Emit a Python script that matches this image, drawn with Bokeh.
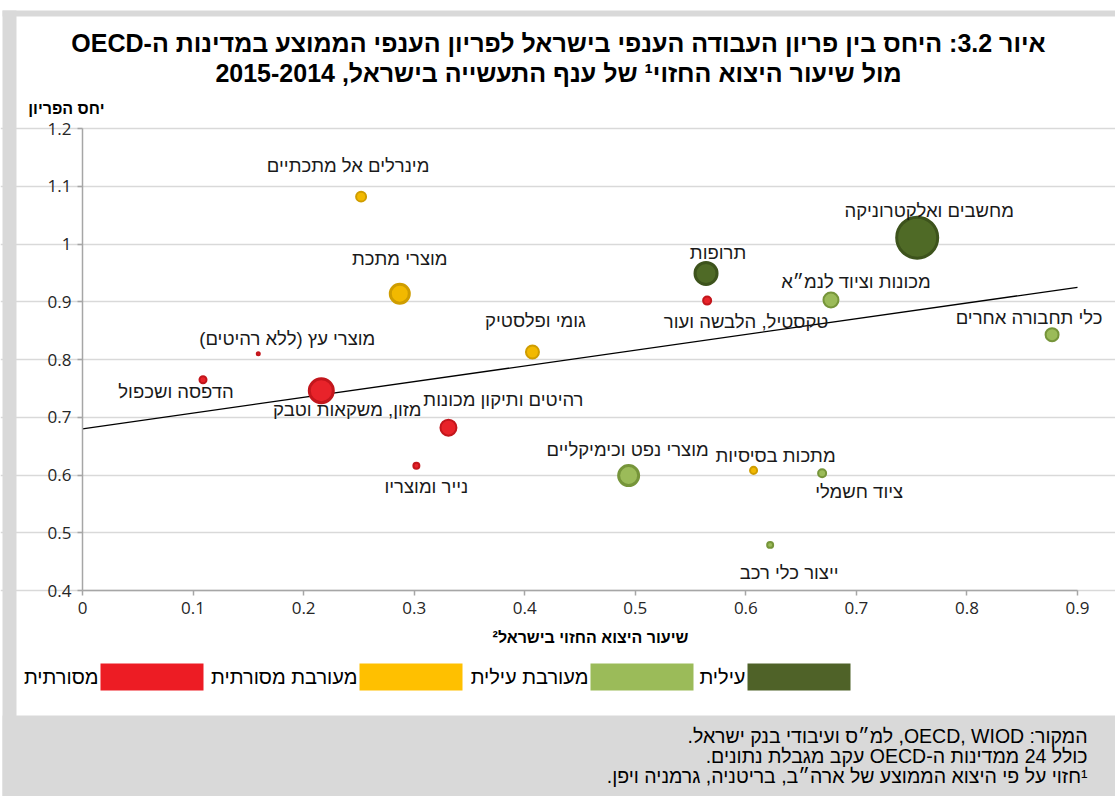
from bokeh.plotting import figure
from bokeh.models import Range1d, ColumnDataSource, FixedTicker
from bokeh.core.properties import value
from bokeh.embed import file_html
from bokeh.resources import INLINE
import math

RLE, PDF = "\u202B", "\u202C"


def rtl(s):
    return RLE + s + PDF


# ---------------- data ----------------
title_line1 = "איור 3.2: היחס בין פריון העבודה הענפי בישראל לפריון הענפי הממוצע במדינות ה-OECD"
title_line2 = "מול שיעור היצוא החזוי\u00b9 של ענף התעשייה בישראל, 2014\u20102015"
x_title = "שיעור היצוא החזוי בישראל\u00b2"
y_title = "יחס הפריון"

industries = [
    "מינרלים אל מתכתיים",
    "מוצרי מתכת",
    "מחשבים ואלקטרוניקה",
    "תרופות",
    "טקסטיל, הלבשה ועור",
    "מכונות וציוד לנמ״א",
    "כלי תחבורה אחרים",
    "גומי ופלסטיק",
    "מוצרי עץ (ללא רהיטים)",
    "הדפסה ושכפול",
    "מזון, משקאות וטבק",
    "רהיטים ותיקון מכונות",
    "נייר ומוצריו",
    "מוצרי נפט וכימיקליים",
    "מתכות בסיסיות",
    "ציוד חשמלי",
    "ייצור כלי רכב",
]
export_rate = [0.252, 0.287, 0.755, 0.564, 0.565, 0.677, 0.877, 0.407, 0.159,
               0.109, 0.216, 0.331, 0.302, 0.494, 0.607, 0.669, 0.622]
productivity_ratio = [1.082, 0.914, 1.011, 0.949, 0.902, 0.903, 0.843, 0.813, 0.810,
                      0.765, 0.746, 0.682, 0.616, 0.599, 0.608, 0.603, 0.479]
category = ["מעורבת מסורתית", "מעורבת מסורתית", "עילית", "עילית", "מסורתית",
            "מעורבת עילית", "מעורבת עילית", "מעורבת מסורתית", "מסורתית",
            "מסורתית", "מסורתית", "מסורתית", "מסורתית", "מעורבת עילית",
            "מעורבת מסורתית", "מעורבת עילית", "מעורבת עילית"]
# relative weight of each branch (bubble area, largest = 100)
weight = [7.4, 25.0, 100.0, 32.3, 5.2, 14.9, 11.6, 11.6, 1.3,
          4.2, 37.7, 16.7, 3.3, 27.3, 4.2, 5.2, 3.3]

legend_categories = ["מסורתית", "מעורבת מסורתית", "מעורבת עילית", "עילית"]

trend_x = [0.0, 0.9]
trend_y = [0.68, 0.925]

x_ticks = [0, 0.1, 0.2, 0.3, 0.4, 0.5, 0.6, 0.7, 0.8, 0.9]
x_tick_labels = ["0", "0.1", "0.2", "0.3", "0.4", "0.5", "0.6", "0.7", "0.8", "0.9"]
y_ticks = [0.4, 0.5, 0.6, 0.7, 0.8, 0.9, 1.0, 1.1, 1.2]
y_tick_labels = ["0.4", "0.5", "0.6", "0.7", "0.8", "0.9", "1", "1.1", "1.2"]

source_lines = [
    "המקור: OECD, WIOD, למ״ס ועיבודי בנק ישראל.",
    "כולל 24 ממדינות ה-OECD עקב מגבלת נתונים.",
    "\u00b9חזוי על פי היצוא הממוצע של ארה״ב, בריטניה, גרמניה ויפן.",
]

# ---------------- styles / layout ----------------
fill_colors = {"מסורתית": "#e8232a", "מעורבת מסורתית": "#f2b900",
               "מעורבת עילית": "#9bbb59", "עילית": "#4f6a26"}
line_colors = {"מסורתית": "#c3161c", "מעורבת מסורתית": "#cf9d00",
               "מעורבת עילית": "#76953a", "עילית": "#3d531c"}
legend_colors = {"מסורתית": "#ed1c24", "מעורבת מסורתית": "#ffc000",
                 "מעורבת עילית": "#9bbb59", "עילית": "#4f6228"}

# label offsets (px) relative to bubble centre (positive dy = down)
label_dx = [-13, 0, 12, 12, 39, 25, -23, 3, 29, -27, 26, 55, 10, -1, 22, 37, 19]
label_dy = [-31, -35, -27, -21, 21, -19, -17, -31, -15, 12, 19, -28, 21, -26, -15, 18, 28]

SANS = "Liberation Sans"
TICK_FONT = "Open Sans"

W, H = 1115, 796
FL, FR, FT, FB = 82, 1077, 128, 590          # chart area in page pixels
X0, X1, Y0, Y1 = 0.0, 0.9, 0.4, 1.2


def px_x(X):
    return X0 + (X - FL) * (X1 - X0) / (FR - FL)


def px_y(Y):
    return Y0 + (FB - Y) * (Y1 - Y0) / (FB - FT)


# the frame covers the whole page; the chart occupies the [X0,X1]x[Y0,Y1] part of it
p = figure(width=W, height=H, x_range=Range1d(px_x(0), px_x(W)), y_range=Range1d(px_y(H), px_y(0)),
           output_backend="svg", toolbar_location=None,
           min_border_left=0, min_border_right=0, min_border_top=0, min_border_bottom=0)
p.outline_line_color = None
p.background_fill_color = "white"
p.border_fill_color = "white"

# axes placed at the chart origin
xt = FixedTicker(ticks=x_ticks)
yt = FixedTicker(ticks=y_ticks)
for ax, ticker, ticks, labels, loc, bounds in (
        (p.xaxis[0], xt, x_ticks, x_tick_labels, Y0, (X0, X1)),
        (p.yaxis[0], yt, y_ticks, y_tick_labels, X0, (Y0, Y1))):
    ax.ticker = ticker
    ax.fixed_location = loc
    ax.bounds = bounds
    ax.major_label_overrides = {t: l for t, l in zip(ticks, labels)}
    ax.axis_line_color = "#a6a6a6"
    ax.axis_line_width = 1.5
    ax.major_tick_line_color = "#a6a6a6"
    ax.major_tick_line_width = 1.5
    ax.major_tick_out = 5
    ax.major_tick_in = 0
    ax.minor_tick_line_color = None
    ax.major_label_text_font = TICK_FONT
    ax.major_label_text_font_size = "17px"
    ax.major_label_text_color = "#262626"
    ax.major_label_standoff = 6
p.xgrid.visible = False
p.ygrid.ticker = yt
p.ygrid.bounds = (X0, X1)
p.ygrid.grid_line_color = "#d9d9d9"
p.ygrid.grid_line_width = 1.5


def pbox(Xa, Ya, Xb, Yb, color):
    p.quad(left=[px_x(Xa)], right=[px_x(Xb)], top=[px_y(Ya)], bottom=[px_y(Yb)],
           fill_color=color, line_color=None)


def ptext(Xs, Ys, texts, size, font=SANS, bold=False, align="center", color="#000000"):
    p.text(x=[px_x(X) for X in Xs], y=[px_y(Y) for Y in Ys], text=[rtl(t) for t in texts],
           text_font=value(font), text_font_size=f"{size}px",
           text_font_style="bold" if bold else "normal",
           text_align=align, text_baseline="middle", text_color=color)


# frame of the publication
GRAY = "#d9d9d9"
pbox(2, 10, W, 16, GRAY)
pbox(2, 10, 16, H, GRAY)
pbox(2, 715, W, H, GRAY)

# titles
ptext([558, 558], [42, 72], [title_line1, title_line2], 25, bold=True)
ptext([104], [108], [y_title], 16, bold=True, align="right")
ptext([590], [637], [x_title], 16, bold=True)

# trend line
p.line(trend_x, trend_y, line_color="black", line_width=1.3)

# bubbles
sizes = [44 * math.sqrt(w / 100.0) for w in weight]
lw = [3 if s > 20 else 2 for s in sizes]
src = ColumnDataSource(dict(
    x=export_rate, y=productivity_ratio,
    size=[s - l for s, l in zip(sizes, lw)], lw=lw,
    fill=[fill_colors[c] for c in category],
    line=[line_colors[c] for c in category],
))
p.scatter("x", "y", size="size", source=src, fill_color="fill", line_color="line",
          line_width="lw")

# bubble labels
lsrc = ColumnDataSource(dict(
    x=export_rate, y=productivity_ratio, text=[rtl(s) for s in industries],
    dx=label_dx, dy=label_dy,
))
p.text("x", "y", text="text", x_offset="dx", y_offset="dy", source=lsrc,
       text_font=value(SANS), text_font_size="18.5px", text_color="#1a1a1a",
       text_align="center", text_baseline="middle")

# legend
box_left = [100, 359, 590, 747]
for cat, xb in zip(legend_categories, box_left):
    pbox(xb, 663, xb + 103, 690, legend_colors[cat])
ptext([xb - 2 for xb in box_left], [676] * 4, legend_categories, 20, align="right")

# source notes
ptext([1087] * 3, [735, 755, 775], source_lines, 19.5, align="right")

open("out.html", "w").write(file_html(p, INLINE))
